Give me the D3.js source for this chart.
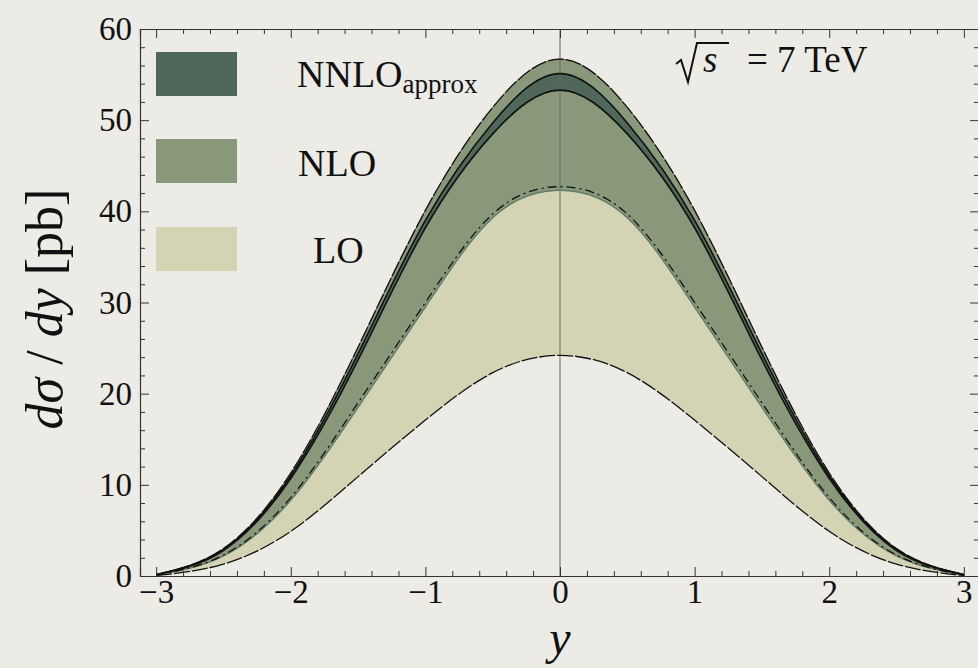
<!DOCTYPE html>
<html>
<head>
<meta charset="utf-8">
<script src="https://cdn.jsdelivr.net/npm/d3@7"></script>
<style>
  html, body { margin: 0; padding: 0; background: #ecebe6; }
  svg { display: block; }
  text { font-family: "Liberation Serif", "DejaVu Serif", serif; fill: #111; }
</style>
</head>
<body>
<svg id="chart" width="978" height="668"></svg>
<script>
// ---- data ----
const rapidity   = [-3, -2.5, -2, -1.5, -1, -0.5, 0, 0.5, 1, 1.5, 2, 2.5, 3];
const nloUpper   = [0.15, 3.0, 11.3, 25.1, 40.1, 51.4, 56.7, 51.4, 40.1, 25.1, 11.3, 3.0, 0.15];
const nnloUpper  = [0.15, 2.9, 11.0, 24.4, 39.0, 49.7, 55.1, 49.7, 39.0, 24.4, 11.0, 2.9, 0.15];
const nnloLower  = [0.14, 2.8, 10.7, 23.7, 38.2, 48.5, 53.3, 48.5, 38.2, 23.7, 10.7, 2.8, 0.14];
const loUpper    = [0.10, 2.2, 8.3, 18.5, 29.5, 39.3, 42.3, 39.3, 29.5, 18.5, 8.3, 2.2, 0.10];
const loScaleAlt = [0.10, 2.3, 8.6, 19.0, 30.0, 39.7, 42.7, 39.7, 30.0, 19.0, 8.6, 2.3, 0.10];
const loLower    = [0.05, 1.3, 4.9, 10.9, 17.1, 22.3, 24.2, 22.3, 17.1, 10.9, 4.9, 1.3, 0.05];

const xMajorTicks = [-3, -2, -1, 0, 1, 2, 3];
const yMajorTicks = [0, 10, 20, 30, 40, 50, 60];
const legendLabels = ["NNLO", "NLO", "LO"];
const legendSub = ["approx", "", ""];
const energyLabel = "= 7 TeV";

// ---- layout ----
const svg = d3.select("#chart");
const plotL = 140, plotR = 980, plotT = 29, plotB = 576;
const x = d3.scaleLinear().domain([-3.12, 3.12]).range([plotL, plotR]);
const y = d3.scaleLinear().domain([0, 60]).range([plotB, plotT]);

const colNNLO = "#50685a", colNLO = "#8a987a", colLO = "#d4d4b4";

svg.append("defs").append("clipPath").attr("id", "plotclip")
  .append("rect").attr("x", plotL).attr("y", plotT)
  .attr("width", plotR - plotL).attr("height", plotB - plotT);

const pts = (arr) => rapidity.map((r, i) => [r, arr[i]]);
const band = (lo, hi) => rapidity.map((r, i) => ({ r, lo: lo[i], hi: hi[i] }));
const curve = d3.curveNatural;
const area = d3.area().curve(curve)
  .x(d => x(d.r)).y0(d => y(d.lo)).y1(d => y(d.hi));
const line = d3.line().curve(curve)
  .x(d => x(d[0])).y(d => y(d[1]));

const g = svg.append("g").attr("clip-path", "url(#plotclip)");

// bands
g.append("path").attr("d", area(band(loLower, loUpper))).attr("fill", colLO);
g.append("path").attr("d", area(band(loUpper, nloUpper))).attr("fill", colNLO)
  .attr("stroke", "#6d8673").attr("stroke-width", 1);
g.append("path").attr("d", area(band(nnloLower, nnloUpper))).attr("fill", colNNLO);

// vertical line at y=0
g.append("line").attr("x1", x(0)).attr("x2", x(0)).attr("y1", plotT).attr("y2", plotB)
  .attr("stroke", "#6a6a66").attr("stroke-width", 1);

// curve outlines
g.append("path").attr("d", line(pts(loUpper))).attr("fill", "none")
  .attr("stroke", "#5f7d6b").attr("stroke-width", 1.2);
g.append("path").attr("d", line(pts(loScaleAlt))).attr("fill", "none")
  .attr("stroke", "#111").attr("stroke-width", 1.3).attr("stroke-dasharray", "9,4,2,4");
g.append("path").attr("d", line(pts(loLower))).attr("fill", "none")
  .attr("stroke", "#111").attr("stroke-width", 1.3).attr("stroke-dasharray", "16,2");
g.append("path").attr("d", line(pts(nloUpper))).attr("fill", "none")
  .attr("stroke", "#111").attr("stroke-width", 1.3).attr("stroke-dasharray", "16,2");
g.append("path").attr("d", line(pts(nnloUpper))).attr("fill", "none")
  .attr("stroke", "#111").attr("stroke-width", 1.6);
g.append("path").attr("d", line(pts(nnloLower))).attr("fill", "none")
  .attr("stroke", "#111").attr("stroke-width", 1.6);

// ---- frame & axes ----
const xMinor = d3.range(-30, 31, 2).map(v => v / 10).filter(v => !xMajorTicks.includes(v));
const yMinor = d3.range(0, 61, 2).filter(v => !yMajorTicks.includes(v));

function styleAxis(sel) {
  sel.select(".domain").attr("stroke", "#333").attr("stroke-width", 1.2);
  sel.selectAll(".tick line").attr("stroke", "#333").attr("stroke-width", 1);
  sel.selectAll("text").attr("font-size", 33).attr("fill", "#111")
    .style("font-family", "'Liberation Serif', serif");
}

const fmt = d => d < 0 ? "\u2212" + Math.abs(d) : String(d);

// bottom
svg.append("g").attr("transform", `translate(0,${plotB})`)
  .call(d3.axisBottom(x).tickValues(xMajorTicks).tickSize(-9).tickPadding(4).tickFormat(fmt))
  .call(styleAxis);
svg.append("g").attr("transform", `translate(0,${plotB})`)
  .call(d3.axisBottom(x).tickValues(xMinor).tickSize(-5).tickFormat(""))
  .call(styleAxis).select(".domain").remove();
// top
svg.append("g").attr("transform", `translate(0,${plotT})`)
  .call(d3.axisTop(x).tickValues(xMajorTicks).tickSize(-9).tickFormat(""))
  .call(styleAxis);
svg.append("g").attr("transform", `translate(0,${plotT})`)
  .call(d3.axisTop(x).tickValues(xMinor).tickSize(-5).tickFormat(""))
  .call(styleAxis).select(".domain").remove();
// left
svg.append("g").attr("transform", `translate(${plotL},0)`)
  .call(d3.axisLeft(y).tickValues(yMajorTicks).tickSize(-9).tickPadding(8).tickFormat(d3.format("d")))
  .call(styleAxis);
svg.append("g").attr("transform", `translate(${plotL},0)`)
  .call(d3.axisLeft(y).tickValues(yMinor).tickSize(-5).tickFormat(""))
  .call(styleAxis).select(".domain").remove();
// right
svg.append("g").attr("transform", `translate(${plotR - 1},0)`)
  .call(d3.axisRight(y).tickValues(yMajorTicks).tickSize(-9).tickFormat(""))
  .call(styleAxis);
svg.append("g").attr("transform", `translate(${plotR - 1},0)`)
  .call(d3.axisRight(y).tickValues(yMinor).tickSize(-5).tickFormat(""))
  .call(styleAxis).select(".domain").remove();

// axis titles
const yl = svg.append("text")
  .attr("transform", `translate(62,309) rotate(-90)`)
  .attr("text-anchor", "middle").attr("font-size", 52);
yl.append("tspan").attr("font-style", "italic").text("d\u03C3");
yl.append("tspan").text(" / ");
yl.append("tspan").attr("font-style", "italic").text("dy");
yl.append("tspan").text(" [pb]");

svg.append("text").attr("x", x(0)).attr("y", 654).attr("text-anchor", "middle")
  .attr("font-size", 48).attr("font-style", "italic").text("y");

// ---- legend ----
const legendColors = [colNNLO, colNLO, colLO];
const legendRectTop = [52, 139, 227];
const legendBase = [87, 176, 263];
const lg = svg.append("g");
legendLabels.forEach((lab, i) => {
  lg.append("rect").attr("x", 156).attr("y", legendRectTop[i]).attr("width", 81).attr("height", 44)
    .attr("fill", legendColors[i]);
  const t = lg.append("text").attr("y", legendBase[i]).attr("font-size", 38);
  if (i === 0) {
    t.attr("x", 297);
    t.append("tspan").text(lab);
    t.append("tspan").attr("font-size", 27).attr("dy", 6).text(legendSub[i]);
  } else {
    t.attr("x", i === 1 ? 298 : 313).text(lab);
  }
});

// ---- energy label ----
const eg = svg.append("g");
eg.append("path")
  .attr("d", "M676,64 L681,60 L688,82 L697,43 L729,43")
  .attr("fill", "none").attr("stroke", "#111").attr("stroke-width", 2);
eg.append("text").attr("x", 703).attr("y", 72).attr("font-size", 37)
  .attr("font-style", "italic").text("s");
eg.append("text").attr("x", 747).attr("y", 72).attr("font-size", 37).text(energyLabel);
</script>
</body>
</html>
